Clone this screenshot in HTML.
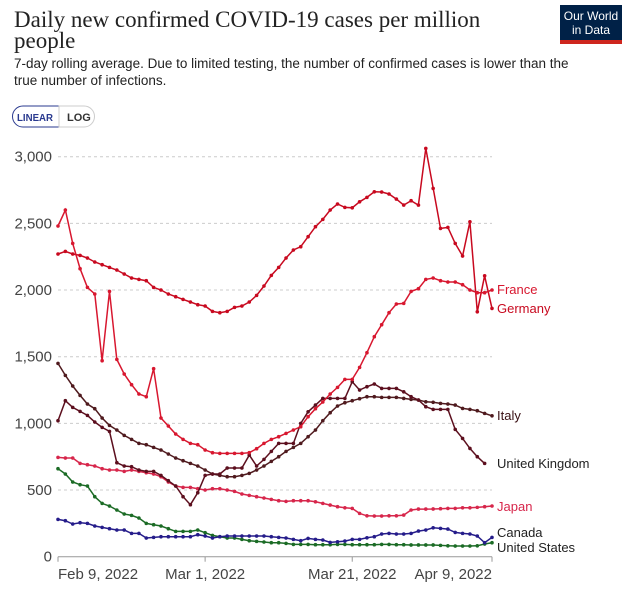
<!DOCTYPE html>
<html><head><meta charset="utf-8"><style>
body{margin:0;background:#fff;width:624px;height:588px;overflow:hidden;font-family:"Liberation Sans",sans-serif}
</style></head><body>
<svg id="svg" width="624" height="588" xmlns="http://www.w3.org/2000/svg">
<text x="14" y="27" font-family="Liberation Serif,serif" font-size="23" fill="#222">Daily new confirmed COVID-19 cases per million</text>
<text x="14" y="48" font-family="Liberation Serif,serif" font-size="23" fill="#222">people</text>
<text x="14" y="68" font-size="13.5" fill="#222">7-day rolling average. Due to limited testing, the number of confirmed cases is lower than the</text>
<text x="14" y="85" font-size="13.5" fill="#222">true number of infections.</text>
<g><path d="M59 106 H23 A10.5 10.5 0 0 0 23 127 H59 Z" fill="#fff" stroke="#2a3a8f"/><text x="17" y="121" font-size="10.5" font-weight="bold" fill="#2a3a8f" textLength="36" lengthAdjust="spacingAndGlyphs">LINEAR</text></g>
<g><path d="M59 106 H84 A10.5 10.5 0 0 1 84 127 H59 Z" fill="#fff" stroke="#ccc"/><text x="67" y="121" font-size="11" font-weight="bold" fill="#333">LOG</text></g>
<g><rect x="560" y="5" width="62" height="38" fill="#002147"/><rect x="560" y="40" width="62" height="4" fill="#ce261e"/><text x="591" y="20" font-size="12" fill="#fff" text-anchor="middle">Our World</text><text x="591" y="34" font-size="12" fill="#fff" text-anchor="middle">in Data</text></g>
<g id="grid"></g><g id="axes"></g><g id="series"></g><g id="labels"></g>
</svg>
<script>
const yTicks=[0,500,1000,1500,2000,2500,3000];
const xTickDays=[0,20,40,59];
const xTickLabels=["Feb 9, 2022","Mar 1, 2022","Mar 21, 2022","Apr 9, 2022"];
const france=[2480,2600,2350,2160,2020,1970,1470,1990,1480,1370,1290,1220,1200,1410,1040,980,920,880,850,840,800,780,775,775,775,775,780,810,850,880,900,925,950,975,1050,1110,1160,1220,1270,1330,1330,1420,1530,1650,1740,1830,1895,1900,1990,2010,2080,2090,2070,2060,2060,2040,2000,1980,1980,2000];
const germany=[2270,2290,2270,2260,2240,2210,2190,2170,2150,2120,2090,2080,2070,2020,2000,1970,1950,1930,1910,1890,1880,1840,1830,1840,1870,1880,1910,1960,2030,2110,2170,2240,2300,2325,2400,2475,2530,2600,2645,2620,2617,2662,2695,2737,2735,2720,2682,2637,2670,2637,3062,2762,2462,2470,2350,2255,2512,1837,2107,1862];
const italy=[1450,1360,1280,1210,1145,1110,1040,985,950,910,880,850,840,820,800,770,740,720,700,680,650,620,610,600,600,610,625,650,680,715,750,790,820,850,900,950,1020,1080,1130,1155,1170,1185,1200,1200,1195,1195,1195,1187,1180,1175,1162,1158,1150,1145,1137,1112,1105,1095,1075,1057];
const uk=[1020,1170,1120,1090,1060,1010,970,940,705,680,675,650,640,640,610,570,530,450,390,480,610,620,620,665,665,665,762,680,730,790,850,850,850,1000,1087,1137,1187,1187,1187,1187,1312,1250,1275,1295,1262,1262,1262,1237,1200,1175,1125,1105,1105,1105,955,887,812,750,700];
const japan=[745,740,740,700,690,680,660,650,650,640,650,640,630,620,600,560,530,520,520,510,500,510,510,500,490,470,460,450,440,430,420,415,420,420,420,412,400,387,375,367,362,325,307,305,305,307,307,312,350,357,357,358,360,362,362,367,367,370,375,380];
const canada=[280,270,245,255,250,230,220,210,200,200,175,175,140,145,150,150,150,150,150,165,155,140,150,155,155,155,155,155,155,150,145,140,130,120,137,130,125,107,112,117,130,130,142,150,170,175,170,170,175,192,200,217,212,207,182,175,170,155,105,145];
const us=[660,620,560,540,530,450,400,380,350,320,310,290,250,240,230,210,190,190,190,200,180,160,150,140,140,130,120,115,110,105,105,100,92,92,92,90,90,90,92,92,90,90,90,90,92,92,90,90,88,88,88,88,85,82,80,80,80,82,95,105];
const X0=58,X1=492,Y0=556.7,Y1=156.7;
const xs=d=>X0+(X1-X0)*d/59;
const ys=v=>Y0-(Y0-Y1)*v/3000;
const NS="http://www.w3.org/2000/svg";
function mk(tag,at,parent){const e=document.createElementNS(NS,tag);for(const k in at)e.setAttribute(k,at[k]);parent.appendChild(e);return e;}
const grid=document.getElementById('grid'),axes=document.getElementById('axes'),ser=document.getElementById('series'),lab=document.getElementById('labels');
yTicks.forEach(v=>{
  if(v>0){const l=mk('line',{x1:X0,x2:X1,y1:ys(v),y2:ys(v),stroke:'#ccc','stroke-dasharray':'3,3'},grid);
  
  }
  const t=mk('text',{x:52,y:ys(v)+5,'text-anchor':'end','font-size':15,fill:'#444'},axes);t.textContent=v.toLocaleString('en-US');
  
  
});
const ax=mk('line',{x1:X0,x2:X1,y1:Y0,y2:Y0,stroke:'#999'},axes);


xTickDays.forEach((d,i)=>{
  const tk=mk('line',{x1:xs(d),x2:xs(d),y1:Y0,y2:Y0+5,stroke:'#999'},axes);
  
  
  const anchor=i==0?'start':(i==3?'end':'middle');
  const t=mk('text',{x:xs(d),y:579,'text-anchor':anchor,'font-size':15,fill:'#444'},axes);t.textContent=xTickLabels[i];
  
  
});
const defs=[[us,'#1b6b25'],[canada,'#251c8a'],[japan,'#d7264b'],[italy,'#4f1a1e'],[uk,'#5c0f1e'],[germany,'#c8091f'],[france,'#d8172f']];
const names=["United States","Canada","Japan","Italy","United Kingdom","Germany","France"];
defs.forEach(([arr,c],i)=>{
  const g=mk('g',{},ser);
  
  
  const pts=arr.map((v,d)=>xs(d).toFixed(1)+','+ys(v).toFixed(1)).join(' ');
  const pl=mk('polyline',{points:pts,fill:'none',stroke:c,'stroke-width':1.5},g);
  
  
  arr.forEach((v,d)=>{const p=mk('circle',{cx:xs(d),cy:ys(v),r:1.8,fill:c},g);
    
    });
});
const labelDefs=[["France",497,294,'#d8172f'],["Germany",497,313,'#c8091f'],["Italy",497,420,'#3a1014'],["United Kingdom",497,468,'#222'],["Japan",497,511,'#d7264b'],["Canada",497,537,'#222'],["United States",497,552,'#222']];
labelDefs.forEach(([t,x,y,c])=>{const e=mk('text',{x:x,y:y,'font-size':13,fill:c},lab);e.textContent=t;
  
  });
</script>
</body></html>
